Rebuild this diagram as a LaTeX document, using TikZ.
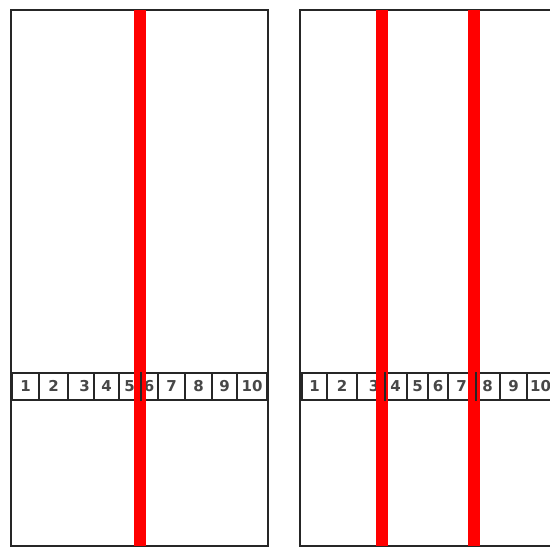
\documentclass[tikz,border=0pt]{standalone}
\usepackage{fontspec}
\setsansfont{DejaVu Sans}
\begin{document}
\begin{tikzpicture}[x=1pt,y=-1pt,
  frame/.style={draw=black!85, line width=2pt},
  cell/.style={draw=black!85, line width=1.8pt, inner sep=0pt, minimum height=27pt,
    text height=10.5pt, text depth=0pt,
    font=\sffamily\bfseries\fontsize{15}{15}\selectfont, text=black!72},
  redbar/.style={fill=red, draw=none},
  sep/.style={draw=black!85, line width=1.8pt}]
\useasboundingbox (0,0) rectangle (550,547);
\clip (0,0) rectangle (550,547);
% outer frames
\draw[frame] (11,10) rectangle (268,546);
\draw[frame] (300,10) rectangle (600,546);
% left row
\node[cell, minimum width=27pt] (l1) at (25.5,386.5) {1};
\node[cell, minimum width=29pt] (l2) at (53.5,386.5) {2};
\node[cell, minimum width=26pt] (l3) at (81,386.5) {\hspace*{7pt}3};
\node[cell, minimum width=25pt] (l4) at (106.5,386.5) {4};
\node[cell, minimum width=21pt] (l5) at (129.5,386.5) {5};
\node[cell, minimum width=18pt] (l6) at (149,386.5) {6};
\node[cell, minimum width=27pt] (l7) at (171.5,386.5) {7};
\node[cell, minimum width=27pt] (l8) at (198.5,386.5) {8};
\node[cell, minimum width=25pt] (l9) at (224.5,386.5) {9};
\node[cell, minimum width=30pt] (l10) at (252,386.5) {10};
% right row
\node[cell, minimum width=25pt] (r1) at (314.5,386.5) {1};
\node[cell, minimum width=30pt] (r2) at (342,386.5) {2};
\node[cell, minimum width=27pt] (r3) at (370.5,386.5) {\hspace*{7pt}3};
\node[cell, minimum width=23pt] (r4) at (395.5,386.5) {4};
\node[cell, minimum width=21pt] (r5) at (417.5,386.5) {5};
\node[cell, minimum width=20pt] (r6) at (438,386.5) {6};
\node[cell, minimum width=27pt] (r7) at (461.5,386.5) {7};
\node[cell, minimum width=25pt] (r8) at (487.5,386.5) {8};
\node[cell, minimum width=27pt] (r9) at (513.5,386.5) {9};
\node[cell, minimum width=27pt] (r10) at (540.5,386.5) {10};
% red bars
\fill[redbar] (134,10) rectangle (146,546);
\fill[redbar] (376,10) rectangle (388,546);
\fill[redbar] (468,10) rectangle (480,546);
% boundary lines visible over red bars
\draw[sep] (l5.north east) -- (l5.south east);
\draw[sep] (r3.north east) -- (r3.south east);
\draw[sep] (r7.north east) -- (r7.south east);
\end{tikzpicture}
\end{document}
